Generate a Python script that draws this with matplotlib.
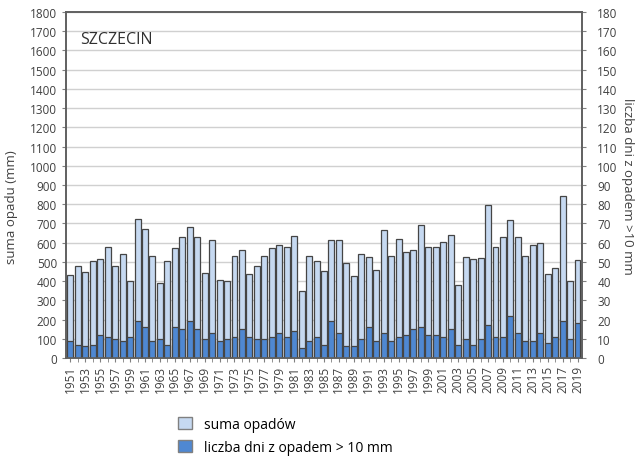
import numpy as np
import matplotlib.pyplot as plt
from matplotlib.patches import Patch

plt.rcParams['font.family'] = ['Open Sans', 'DejaVu Sans']

# Data
years = np.arange(1951, 2020)
suma_opadow = [
    430, 481, 446, 503, 516, 575, 476, 542, 401, 722,
    670, 533, 391, 503, 573, 628, 679, 632, 441, 613,
    406, 401, 531, 561, 437, 481, 529, 571, 588, 575,
    635, 351, 529, 502, 450, 614, 614, 493, 425, 540,
    523, 460, 667, 529, 621, 550, 561, 693, 578, 575,
    601, 639, 382, 528, 516, 522, 797, 578, 632, 719,
    632, 531, 588, 597, 439, 470, 844, 401, 510,
]
dni_10mm = [
    9, 7, 6, 7, 12, 11, 10, 9, 11, 19,
    16, 9, 10, 7, 16, 15, 19, 15, 10, 13,
    9, 10, 11, 15, 11, 10, 10, 11, 13, 11,
    14, 5, 9, 11, 7, 19, 13, 6, 6, 10,
    16, 9, 13, 9, 11, 12, 15, 16, 12, 12,
    11, 15, 7, 10, 7, 10, 17, 11, 11, 22,
    13, 9, 9, 13, 8, 11, 19, 10, 18,
]

light = '#C6D9F1'
dark = '#4F88D2'
edge = '#454545'

fig = plt.figure(figsize=(6.38, 4.64), dpi=100)
ax = fig.add_axes([0.1034, 0.2263, 0.8088, 0.7457])
ax2 = ax.twinx()

ax.bar(years, suma_opadow, width=0.8, color=light, edgecolor=edge, linewidth=0.9, zorder=2)
ax2.bar(years, dni_10mm, width=0.8, color=dark, edgecolor=edge, linewidth=0.9, zorder=2)

ax.set_ylim(0, 1800)
ax2.set_ylim(0, 180)
ax.set_xlim(1950.4, 2019.6)
ax.set_yticks(np.arange(0, 1801, 100))
ax2.set_yticks(np.arange(0, 181, 10))
ax.yaxis.grid(True, color='#D0D0D0', linewidth=1.0, zorder=0)
ax.set_axisbelow(True)

ax.set_xticks(years[::2])
ax.set_xticks(years, minor=True)
ax.set_xticklabels([str(y) for y in years[::2]], rotation=90, fontsize=8.5)

for a in (ax, ax2):
    a.tick_params(axis='y', labelsize=8.5, length=3, color='#808080', colors='#404040')
    for s in a.spines.values():
        s.set_color('#606060')
        s.set_linewidth(1.2)
ax.tick_params(axis='x', which='both', length=3, color='#808080', labelcolor='#404040', pad=2)
ax2.tick_params(axis='y', pad=8)

ax.set_ylabel('suma opadu (mm)', fontsize=9.5, color='#404040')
ax.yaxis.set_label_coords(-0.092, 0.44)
ax2.set_ylabel('liczba dni z opadem >10 mm', fontsize=9.5, color='#404040', rotation=270, va='bottom')
ax2.yaxis.set_label_coords(1.075, 0.5)

ax.text(0.027, 0.91, 'SZCZECIN', transform=ax.transAxes, fontsize=11.5, color='#303030')

handles = [
    Patch(facecolor=light, edgecolor='#808080', label='suma opadów'),
    Patch(facecolor=dark, edgecolor='#808080', label='liczba dni z opadem > 10 mm'),
]
fig.legend(handles=handles, loc='upper left', bbox_to_anchor=(0.27, 0.112), frameon=False,
           fontsize=10, handlelength=1.0, handleheight=1.0, labelspacing=0.6, handletextpad=0.9,
           borderaxespad=0)

fig.savefig('out.png', dpi=100)
